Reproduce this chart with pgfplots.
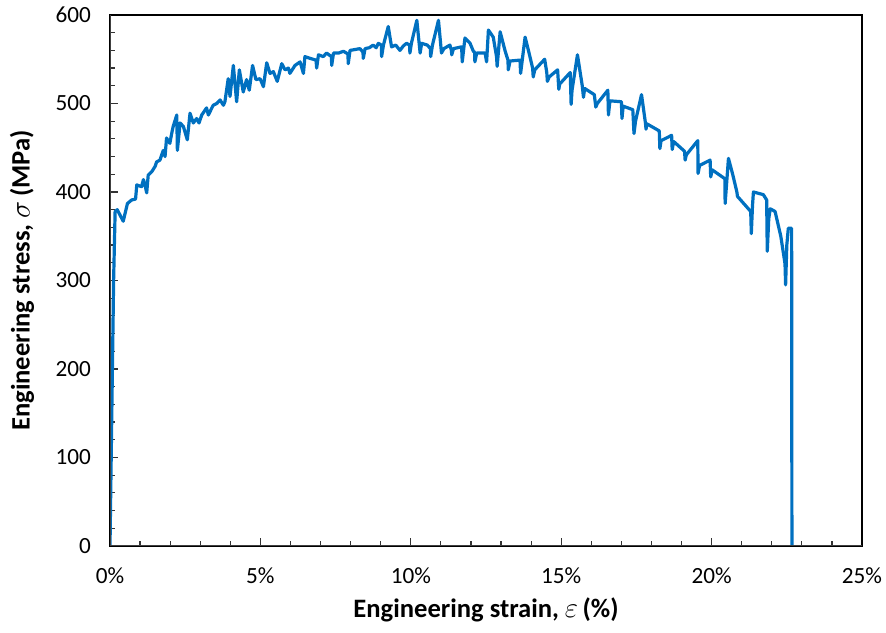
\documentclass[border=0pt]{standalone}
\usepackage{pgfplots}
\pgfplotsset{compat=1.18}
\usepackage{fontspec}
\setmainfont{Carlito}
\definecolor{xlblue}{RGB}{0,112,192}
\begin{document}
\begin{tikzpicture}
\begin{axis}[
  name=ax,
  scale only axis,
  width=376pt, height=265.5pt,
  xmin=0, xmax=25, ymin=0, ymax=600,
  xtick={0,5,10,15,20,25},
  xticklabels={0\%,5\%,10\%,15\%,20\%,25\%},
  ytick={0,100,200,300,400,500,600},
  minor x tick num=4, minor y tick num=4,
  tick pos=left,
  tick align=inside,
  major tick length=4pt, minor tick length=2.7pt,
  tick style={black!80, line width=0.6pt},
  axis line style={black, line width=0.6pt},
  /pgf/number format/assume math mode=true,
  ticklabel style={font=\fontsize{11.6}{13}\selectfont},
  xticklabel style={yshift=-7.5pt},
  yticklabel style={xshift=-6pt},
  xlabel={\textbf{Engineering strain,} $\varepsilon$\,\textbf{(\%)}},
  ylabel={\textbf{Engineering stress,} $\sigma$\,\textbf{(MPa)}},
  label style={font=\fontsize{13.3}{15}\selectfont},
  xlabel style={at={([yshift=-32pt]axis description cs:0.5,0)}, anchor=center},
  ylabel style={at={([xshift=-44pt]axis description cs:0,0.5)}, anchor=center},
]
\addplot[color=xlblue, line width=1.6pt, line join=round, line cap=round] coordinates {
(0,0) (0.12,300) (0.17,378) (0.24,380) (0.44,367) (0.58,387) (0.72,391) (0.85,392)
(0.89,408) (1.05,406) (1.11,414) (1.15,410) (1.22,399) (1.27,419) (1.39,423) (1.50,429)
(1.55,434) (1.66,436) (1.77,447) (1.83,440) (1.88,461) (1.99,455) (2.05,466) (2.10,474)
(2.22,487) (2.24,447) (2.33,478) (2.44,474) (2.57,459) (2.66,489) (2.77,478) (2.88,483)
(2.96,478) (3.05,487) (3.21,495) (3.27,487) (3.43,498) (3.55,500) (3.66,504) (3.77,498)
(3.82,502) (3.93,528) (3.99,508) (4.10,543) (4.21,502) (4.30,538) (4.43,513) (4.54,527)
(4.63,515) (4.74,543) (4.85,527) (4.99,528) (5.10,519) (5.21,546) (5.32,534) (5.43,536)
(5.56,525) (5.71,545) (5.82,538) (5.93,540) (5.98,534) (6.15,543) (6.32,547) (6.43,534)
(6.48,553) (6.65,551) (6.85,549) (6.87,540) (6.93,555) (7.09,553) (7.20,557) (7.36,553)
(7.37,543) (7.43,557) (7.60,557) (7.76,559) (7.91,556) (7.92,545) (7.98,560) (8.15,561)
(8.31,562) (8.41,558) (8.42,551) (8.48,562) (8.62,563) (8.75,566) (8.85,563) (8.92,568)
(9.02,566) (9.03,553) (9.09,566) (9.25,587) (9.36,564) (9.50,566) (9.64,560) (9.75,565)
(9.86,568) (9.96,566) (9.97,557) (10.02,568) (10.20,594) (10.31,557) (10.36,568) (10.55,566)
(10.65,562) (10.66,553) (10.72,566) (10.92,594) (11.02,557) (11.10,562) (11.30,566) (11.35,560)
(11.36,555) (11.42,562) (11.69,564) (11.71,547) (11.80,574) (11.97,568) (12.08,559) (12.12,558)
(12.13,547) (12.19,557) (12.47,557) (12.52,547) (12.58,583) (12.74,575) (12.85,553) (12.87,542)
(12.97,581) (13.13,560) (13.23,549) (13.24,538) (13.30,548) (13.63,549) (13.65,534) (13.80,575)
(13.96,553) (14.05,540) (14.07,530) (14.12,538) (14.45,550) (14.52,535) (14.54,525) (14.60,530)
(14.88,538) (14.92,516) (14.95,522) (15.30,535) (15.33,499) (15.36,515) (15.54,555) (15.70,520)
(15.74,507) (15.78,517) (16.10,510) (16.15,496) (16.20,500) (16.55,515) (16.57,487) (16.62,503)
(17.00,502) (17.02,483) (17.06,497) (17.38,493) (17.42,466) (17.47,480) (17.67,510) (17.80,478)
(17.82,471) (17.85,477) (18.26,469) (18.28,449) (18.32,458) (18.67,464) (18.69,448) (18.74,457)
(19.10,446) (19.12,436) (19.16,442) (19.54,458) (19.55,421) (19.60,430) (19.95,436) (19.97,417)
(20.02,425) (20.44,415) (20.45,387) (20.56,438) (20.70,420) (20.84,400) (20.86,395) (21.30,378)
(21.32,353) (21.36,385) (21.39,400) (21.72,397) (21.83,391) (21.85,333) (21.90,370) (21.95,381)
(22.11,378) (22.30,350) (22.44,319) (22.46,295) (22.50,340) (22.55,359) (22.66,359) (22.67,0)
};
\draw[black!75, line width=1.1pt] (rel axis cs:0,1) -- (rel axis cs:0,0) -- (rel axis cs:1,0);
\end{axis}
\pgfresetboundingbox
\path ([xshift=-55pt,yshift=-43.5pt]ax.south west) rectangle ([xshift=12pt,yshift=7.5pt]ax.north east);
\end{tikzpicture}
\end{document}
